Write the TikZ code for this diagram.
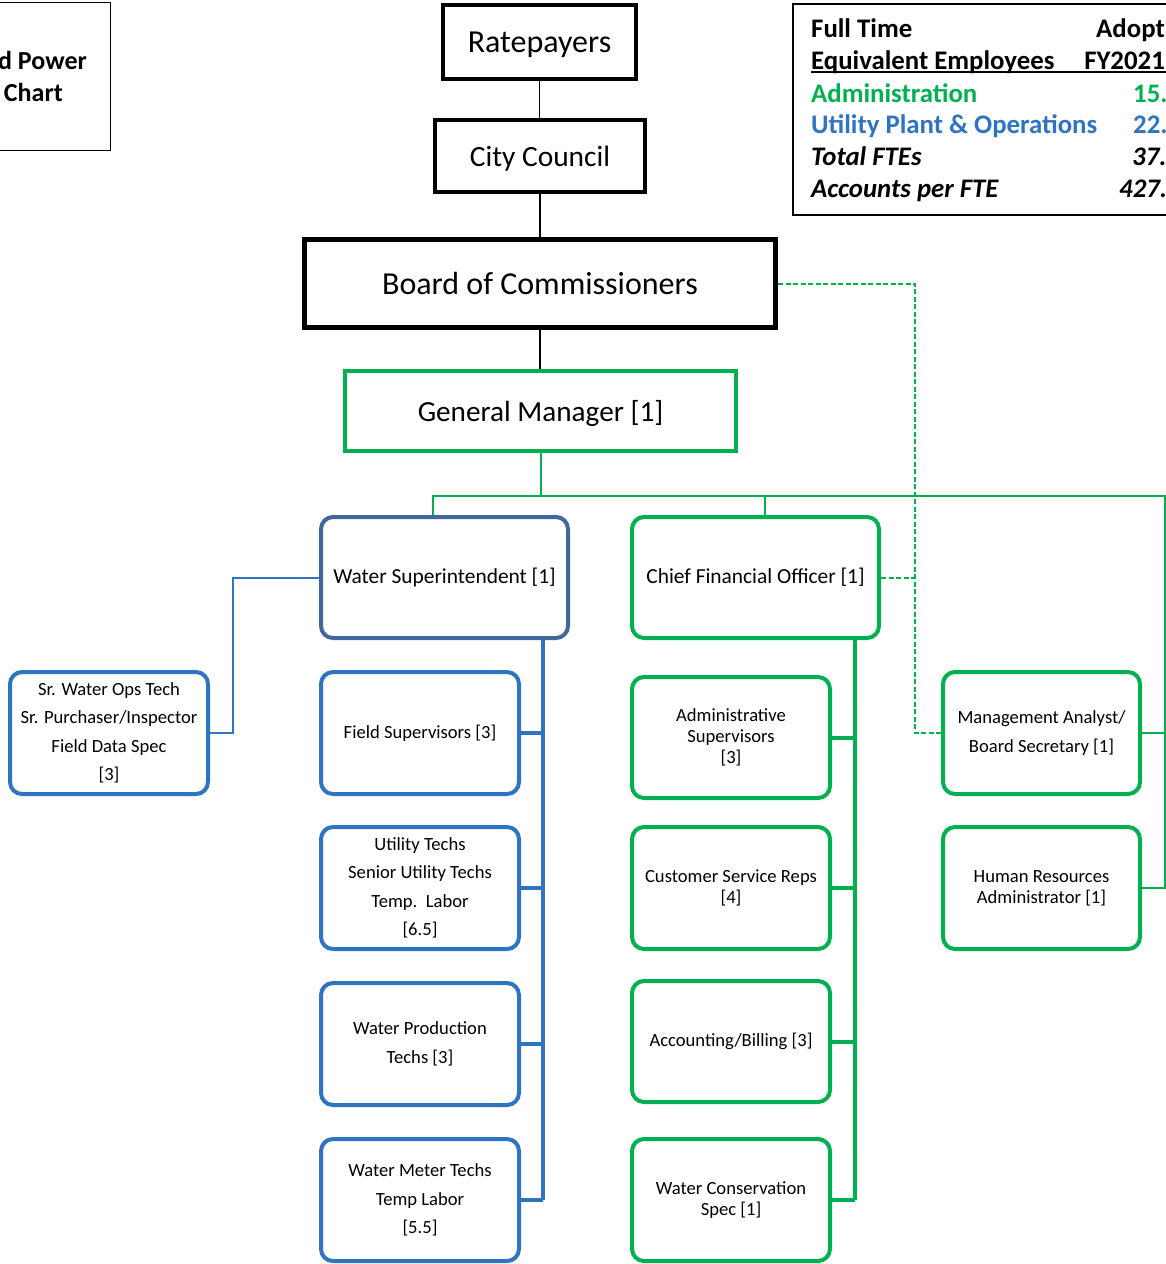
\documentclass[tikz,border=0pt]{standalone}
\usepackage{fontspec}
\setmainfont{Carlito}
\definecolor{ogreen}{HTML}{00B050}
\definecolor{oblue}{HTML}{2F74C0}
\definecolor{slate}{HTML}{41679C}
\begin{document}
\begin{tikzpicture}[x=1pt,y=-1pt,
  topbox/.style={draw=black, line width=4pt, fill=white, inner sep=0pt, align=center, text depth=0pt},
  rbox/.style={draw, rounded corners=12pt, line width=4pt, fill=white, inner sep=2pt, align=center,
    minimum width=198pt, minimum height=122pt},
  bluebox/.style={rbox, draw=oblue},
  greenbox/.style={rbox, draw=ogreen},
  midfont/.style={font=\fontsize{21.4}{25}\selectfont},
  widefont/.style={font=\fontsize{18.6}{28.5}\selectfont},
  tightfont/.style={font=\fontsize{18.6}{21}\selectfont},
  tabtext/.style={anchor=base west, inner sep=0pt, font=\fontsize{26.8}{31}\selectfont\bfseries},
  tabital/.style={tabtext, font=\fontsize{26.8}{31}\selectfont\bfseries\itshape},
  thinblack/.style={draw=black, line width=1.5pt},
  gline/.style={draw=ogreen, line width=2pt},
  gdash/.style={draw=ogreen, line width=2pt, dash pattern=on 5pt off 2.5pt},
  colline/.style={line width=4pt}
]
\useasboundingbox (0,0) rectangle (1166,1264);
\clip (0,0) rectangle (1166,1264);
\fill[white] (0,0) rectangle (1166,1264);

% title box (cut off on the left)
\draw[line width=1.5pt] (-30,2.5) rectangle (110.5,150.5);
\node[anchor=base east, inner sep=0pt, font=\fontsize{26}{31}\selectfont\bfseries] (title1) at (87,69) {d Power};
\node[anchor=base east, inner sep=0pt, font=\fontsize{26}{31}\selectfont\bfseries] (title2) at (63,101) {Chart};

% FTE table (cut off on the right)
\draw[line width=2pt] (793,4) rectangle (1185,215);
\node[tabtext] (h1) at (811,37) {Full Time};
\node[tabtext] (h2) at (811,69) {Equivalent Employees};
\node[tabtext, text=ogreen] (r1) at (811,102) {Administration};
\node[tabtext, text=oblue] (r2) at (811,133) {Utility Plant \& Operations};
\node[tabital] (r3) at (811,165) {Total FTEs};
\node[tabital] (r4) at (811,197) {Accounts per FTE};
\node[tabtext, anchor=base east] (v1) at (1165,37) {Adopt};
\node[tabtext, anchor=base east] (v2) at (1165,69) {FY2021};
\node[tabtext, text=ogreen] (v3) at (1133,102) {15.};
\node[tabtext, text=oblue] (v4) at (1133,133) {22.};
\node[tabital] (v5) at (1132,165) {37.};
\node[tabital] (v6) at (1119,197) {427.};
\draw[line width=1.5pt] (h2.base west) ++(0,3) -- (1170,72);

% governance boxes
\node[topbox, minimum width=193pt, minimum height=74pt, font=\fontsize{32}{37}\selectfont] (rate) at (539.5,42) {Ratepayers};
\node[topbox, minimum width=210pt, minimum height=72pt, font=\fontsize{29.4}{35}\selectfont] (cc) at (540,156) {City Council};
\node[topbox, line width=5pt, minimum width=471pt, minimum height=88pt, font=\fontsize{32}{37}\selectfont] (board) at (540,283.5) {Board of Commissioners};
\node[topbox, draw=ogreen, minimum width=391pt, minimum height=80pt, font=\fontsize{29.2}{35}\selectfont] (gm) at (540.5,411) {General Manager [1]};

% second level
\node[rbox, draw=slate, midfont, minimum width=247pt, minimum height=121pt] (ws) at (444.5,577.5) {Water Superintendent [1]};
\node[greenbox, midfont, minimum width=247pt, minimum height=121pt] (cfo) at (755.5,577.5) {Chief Financial Officer [1]};

% blue boxes
\node[bluebox, widefont] (sr) at (109,733) {Sr. Water Ops Tech\\Sr. Purchaser/Inspector\\Field Data Spec\\{[3]}};
\node[bluebox, widefont] (fs) at (420,733) {Field Supervisors [3]};
\node[bluebox, widefont] (ut) at (420,888) {Utility Techs\\Senior Utility Techs\\Temp.\ \ Labor\\{[6.5]}};
\node[bluebox, widefont] (wp) at (420,1044) {Water Production\\Techs [3]};
\node[bluebox, widefont] (wm) at (420,1200) {Water Meter Techs\\Temp Labor\\{[5.5]}};

% green boxes
\node[greenbox, tightfont, minimum height=121pt] (as) at (731,737.5) {Administrative\\Supervisors\\{[3]}};
\node[greenbox, tightfont] (csr) at (731,888) {Customer Service Reps\\{[4]}};
\node[greenbox, tightfont, minimum height=121pt] (acc) at (731,1041.5) {Accounting/Billing [3]};
\node[greenbox, tightfont] (wc) at (731,1200) {Water Conservation\\Spec [1]};
\node[greenbox, widefont, minimum width=197pt] (mgmt) at (1041.5,733) {Management Analyst/\\Board Secretary [1]};
\node[greenbox, tightfont, minimum width=197pt] (hr) at (1041.5,888) {Human Resources\\Administrator [1]};

% coordinates for connector routes
\coordinate (brL) at (433,496);
\coordinate (brC) at (765,496);
\coordinate (brR) at (1165,496);
\coordinate (dx) at (915,281);
\coordinate (bcol) at (543,1200);
\coordinate (gcol) at (855,1200);
\coordinate (wsl) at (233,582);

% black connectors
\draw[thinblack] (rate.south) -- (rate.south |- cc.north);
\draw[thinblack] (cc.south) -- (cc.south |- board.north);
\draw[thinblack] (board.south) -- (board.south |- gm.north);

% green tree
\draw[gline] (gm.south) -- (gm.south |- brL);
\draw[gline] (brL |- ws.north) -- (brL) -- (brR) |- (hr.east);
\draw[gline] (brC) -- (brC |- cfo.north);
\draw[draw=ogreen, line width=1.5pt] (brR |- mgmt.east) -- (mgmt.east);

% dashed staff lines
\draw[gdash] (board.east) -- (board.east -| dx) -- (dx |- mgmt.west) -- (mgmt.west);
\draw[gdash] (cfo.east) -- (cfo.east -| dx);

% blue column
\draw[oblue, colline] (bcol |- ws.south) -- (bcol);
\foreach \n in {fs,ut,wp,wm} \draw[oblue, colline] (\n.east) -- (\n.east -| bcol);
\draw[oblue, line width=2pt] (ws.west) -- (ws.west -| wsl) |- (sr.east);

% green column
\draw[ogreen, colline] (gcol |- cfo.south) -- (gcol);
\foreach \n in {as,csr,acc,wc} \draw[ogreen, colline] (\n.east) -- (\n.east -| gcol);
\end{tikzpicture}
\end{document}
